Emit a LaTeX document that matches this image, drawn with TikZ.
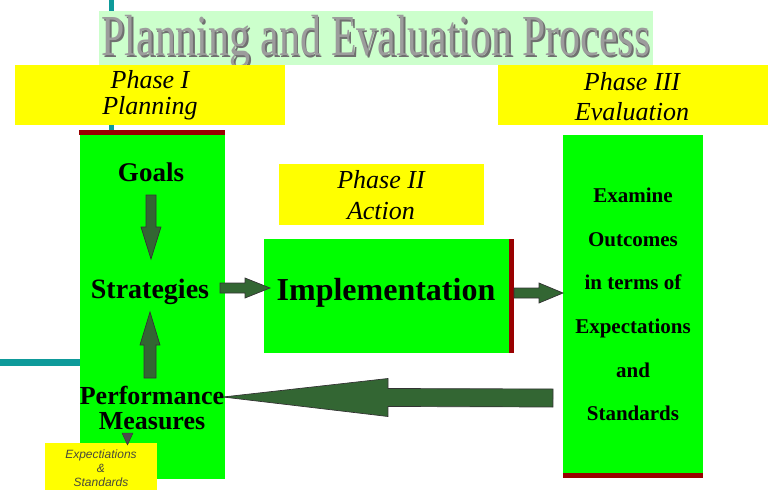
\documentclass[tikz,border=0pt]{standalone}
\usepackage{fontspec}
\setmainfont{Liberation Serif}
\newfontfamily\notefont{Liberation Sans}
\newfontfamily\phasefam{Liberation Serif}
\usetikzlibrary{calc}

\definecolor{boxgreen}{HTML}{00FF00}
\definecolor{boxyellow}{HTML}{FFFF00}
\definecolor{bandgreen}{HTML}{CCFFCC}
\definecolor{edgered}{HTML}{990000}
\definecolor{ruleteal}{HTML}{0E9A9A}
\definecolor{arrowgreen}{HTML}{336633}
\definecolor{titlegray}{HTML}{9C9C9C}
\definecolor{titleshadow}{HTML}{707070}
\definecolor{notegray}{HTML}{4A4A3A}

% italic face for the phase captions
\newcommand\phasefont{\phasefam\itshape\fontsize{26}{26}\selectfont}

% title set twice: a dark offset copy behind a light copy
\newcommand\shadowtitle[1]{%
  \rlap{\hspace{2.5pt}\raisebox{-2pt}{\color{titleshadow}#1}}#1}

% block arrow: tail #1, tip #2, shaft half width #3, head half width #4, head length #5
\newcommand\blockarrow[5]{%
  \coordinate (ba-head) at ($(#2)!#5!(#1)$);
  \filldraw[arrowbody]
    ($(#1)!#3!90:(#2)$) -- ($(ba-head)!#3!90:(#2)$) -- ($(ba-head)!#4!90:(#2)$)
    -- (#2)
    -- ($(ba-head)!#4!-90:(#2)$) -- ($(ba-head)!#3!-90:(#2)$) -- ($(#1)!#3!-90:(#2)$)
    -- cycle;}

\begin{document}
\begin{tikzpicture}[x=1pt,y=-1pt,
  panel/.style={fill=boxgreen,draw=none,inner sep=0pt,outer sep=0pt},
  caption/.style={fill=boxyellow,draw=none,inner sep=0pt,outer sep=0pt},
  redbar/.style={fill=edgered,draw=none},
  arrowbody/.style={fill=arrowgreen,draw=black!80,line width=0.7pt,line join=miter},
  boldtext/.style={inner sep=0pt,anchor=base,font=\bfseries},
  phasetext/.style={inner sep=0pt,anchor=base,font=\phasefont},
  notetext/.style={inner sep=0pt,anchor=base,text=notegray,font=\notefont\itshape\fontsize{12}{12}\selectfont}]

\useasboundingbox (0,0) rectangle (772,490);
\fill[white] (0,0) rectangle (772,490);

% slide rules
\fill[ruleteal] (109,0) rectangle (114,132);
\fill[ruleteal] (0,359) rectangle (82,366);

% title band and shadowed title
\node[fill=bandgreen,inner sep=0pt,minimum width=554pt,minimum height=54pt] (band) at (376,38) {};
\node[inner sep=0pt,anchor=base,text=titlegray,text depth=0pt] (title) at (376,55)
  {\fontsize{58}{58}\selectfont\scalebox{0.72}[1]{\shadowtitle{Planning and Evaluation Process}}};

% phase captions
\node[caption,minimum width=270pt,minimum height=60pt] (ph1) at (150,95) {};
\node[caption,minimum width=270pt,minimum height=60pt] (ph3) at (633,95) {};
\node[caption,minimum width=205pt,minimum height=61pt] (ph2) at (381.5,194.5) {};
\node[phasetext] (ph1a) at (150,88) {Phase I};
\node[phasetext] (ph1b) at (150,114) {Planning};
\node[phasetext] (ph2a) at (381,188) {Phase II};
\node[phasetext] (ph2b) at (381,219) {Action};
\node[phasetext] (ph3a) at (632,90) {Phase III};
\node[phasetext] (ph3b) at (632,120) {Evaluation};

% green panels
\node[panel,minimum width=145pt,minimum height=344pt] (plan) at (152.5,307) {};
\fill[redbar] (79,130) rectangle (225,135);
\node[panel,minimum width=245pt,minimum height=114pt] (impl) at (386.5,296) {};
\fill[redbar] (509,239) rectangle (514,353);
\node[panel,minimum width=140pt,minimum height=338pt] (eval) at (633,304) {};
\fill[redbar] (563,473) rectangle (703,478);

% arrow end points
\coordinate (goals-out) at (151,195);
\coordinate (strat-top) at (151,259);
\coordinate (meas-out) at (150,378);
\coordinate (strat-bot) at (150,312);
\coordinate (strat-out) at (220,288);
\coordinate (impl-in) at (270,288);
\coordinate (impl-out) at (514,293);
\coordinate (eval-in) at (563,293);
\coordinate (eval-out) at (553,398);
\coordinate (meas-in) at (223,397);

\blockarrow{goals-out}{strat-top}{5pt}{10pt}{32pt}
\blockarrow{meas-out}{strat-bot}{6pt}{10pt}{33pt}
\blockarrow{strat-out}{impl-in}{5pt}{10pt}{25pt}
\blockarrow{impl-out}{eval-in}{5pt}{10pt}{24pt}
\blockarrow{eval-out}{meas-in}{9pt}{19pt}{165pt}

% panel texts
\node[boldtext,font=\bfseries\fontsize{27}{27}\selectfont] (goals) at (151,181) {Goals};
\node[boldtext,font=\bfseries\fontsize{28}{28}\selectfont] (strat) at (150,298) {Strategies};
\node[boldtext,font=\bfseries\fontsize{26}{26}\selectfont] (perf) at (152,404) {Performance};
\node[boldtext,font=\bfseries\fontsize{26}{26}\selectfont] (meas) at (152,429) {Measures};
\node[boldtext,font=\bfseries\fontsize{32}{32}\selectfont] (impltext) at (386,300) {Implementation};
\node[boldtext,font=\bfseries\fontsize{21}{21}\selectfont] (ev1) at (633,202) {Examine};
\node[boldtext,font=\bfseries\fontsize{21}{21}\selectfont] (ev2) at (633,246) {Outcomes};
\node[boldtext,font=\bfseries\fontsize{21}{21}\selectfont] (ev3) at (633,289) {in terms of};
\node[boldtext,font=\bfseries\fontsize{21}{21}\selectfont] (ev4) at (633,333) {Expectations};
\node[boldtext,font=\bfseries\fontsize{21}{21}\selectfont] (ev5) at (633,377) {and};
\node[boldtext,font=\bfseries\fontsize{21}{21}\selectfont] (ev6) at (633,420) {Standards};

% expectations note under the measures
\node[caption,minimum width=112pt,minimum height=47pt] (note) at (101,466.5) {};
\node[notetext] (note1) at (101,458) {Expectiations};
\node[notetext] (note2) at (101,472) {\&};
\node[notetext] (note3) at (101,486) {Standards};
\filldraw[fill=black!70,draw=black!80,line width=0.4pt] (122,433) -- (133,433) -- (127.5,445) -- cycle;

\end{tikzpicture}
\end{document}
